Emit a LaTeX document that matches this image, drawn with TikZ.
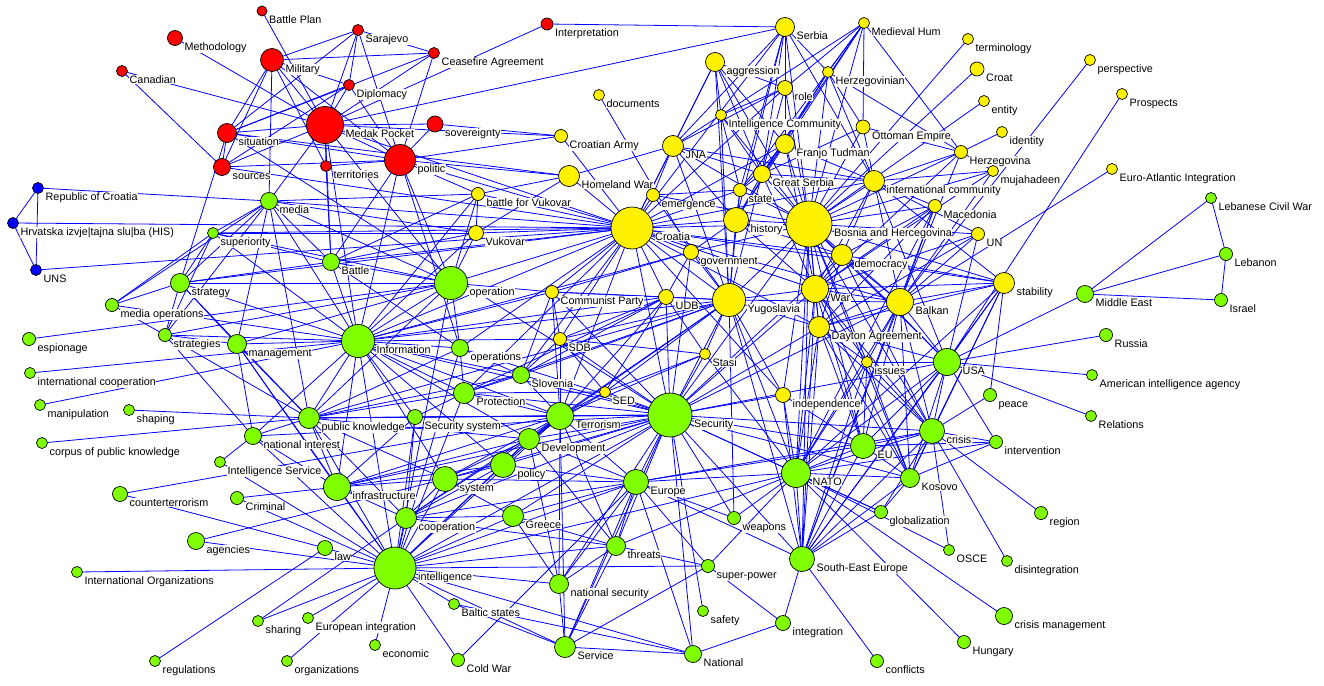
\documentclass[tikz,border=0pt]{standalone}
\usepackage{fontspec}
\setmainfont{Liberation Sans}
\usepackage{tikz}
\definecolor{ngreen}{RGB}{128,255,0}
\pgfdeclarelayer{bg}
\pgfdeclarelayer{lab}
\pgfsetlayers{bg,lab,main}
\tikzset{
  vx/.style={circle,draw=black,line width=0.7pt,inner sep=0pt,outer sep=0pt},
  vred/.style={vx,fill=red},
  vblue/.style={vx,fill=blue},
  vyel/.style={vx,fill=yellow},
  vgrn/.style={vx,fill=ngreen},
  lbl/.style={anchor=base west,fill=white,inner sep=0.5pt,font=\fontsize{10.8}{12}\selectfont},
  edge/.style={blue,line width=0.8pt}
}
\begin{document}
\begin{tikzpicture}[x=1pt,y=-1pt]
\useasboundingbox (0,0) rectangle (1324,685);

% vertices
\foreach \n/\x/\y/\d in {bplan/262/11/10, method/175/38/15, canad/122/71/11, milit/272/60/23,
  saraj/358/30/11, ceasef/434/53/11, diplo/349/85/11, medak/325/125/37, situat/227/133/19,
  sover/435/124/16, politic/400/160/31, territ/326/166/11, sources/222/167/17, interp/547/24/12}
  \node[vred,minimum size=\d pt] (\n) at (\x,\y) {};

\foreach \n/\x/\y/\d in {roc/38/188/11, his/13/223/11, uns/36/270/11}
  \node[vblue,minimum size=\d pt] (\n) at (\x,\y) {};

\foreach \n/\x/\y/\d in {serbia/785/27/19, medhum/864/23/11, aggr/715/62/19, herzian/828/72/11,
  role/785/88/15, docs/599/95/11, intcom/721/115/11, ottoman/863/127/14, croarmy/561/136/13,
  jna/673/146/21, tudman/785/144/19, homewar/569/176/21, grserb/762/174/17, state/740/190/13,
  bvuk/478/194/13, emerg/653/195/13, croatia/632/228/42, history/736/220/25, bih/809/224/46,
  intcomm/874/181/21, herzeg/961/152/13, mujah/993/171/11, maced/935/206/13, un/978/234/13,
  democ/842/255/21, stabil/1004/283/21, balkan/900/302/27, war/815/289/27, yugo/729/300/33,
  dayton/819/327/21, govt/691/252/15, vukovar/476/233/15, compart/552/292/13, udb/666/297/15,
  sdb/560/339/13, stasi/705/354/11, sed/605/392/11, indep/783/395/15, issues/867/362/11,
  termin/968/39/11, croat/977/69/14, entity/984/101/11, identity/1002/132/11,
  persp/1090/60/11, prosp/1122/94/11, euroatl/1112/169/11}
  \node[vyel,minimum size=\d pt] (\n) at (\x,\y) {};

\foreach \n/\x/\y/\d in {lebcw/1211/198/11, lebanon/1226/254/13, israel/1221/300/13,
  mideast/1085/294/17, russia/1106/335/13, amintel/1092/375/11, relat/1091/416/11,
  usa/947/362/27, peace/990/395/13, crisis/932/431/25, interv/996/442/13, eu/863/446/25,
  nato/796/473/29, kosovo/910/478/19, weapons/734/518/13, global/881/512/13, region/1041/513/13,
  osce/949/550/11, disint/1007/561/11, crisman/1004/616/17, hungary/964/642/13,
  conflicts/877/661/13, see/802/559/25, integr/783/623/15, superp/708/566/13, safety/703/611/11,
  national/693/654/17, europe/636/482/25, threats/616/546/19, greece/513/516/21,
  natsec/559/584/19, service/565/647/21, baltic/454/604/11, coldwar/458/660/13,
  policy/503/465/25, system/445/479/25, security/670/415/44, terror/560/416/27,
  devel/529/439/21, slovenia/521/375/17, protect/464/393/21, operations/460/348/17,
  operation/451/283/33, battle/331/262/17, media/269/201/17, superior/213/233/11,
  info/358/341/33, strategy/180/283/19, mediaops/112/305/13, espion/29/339/13,
  strategies/165/335/13, manage/237/344/19, intcoop/30/373/11, manip/40/405/11,
  shaping/129/410/11, pubknow/309/418/21, secsys/415/417/15, natint/253/436/17,
  corpus/42/443/11, intserv/220/462/11, counterr/120/494/15, criminal/237/498/13,
  infra/337/487/27, coop/406/518/21, agencies/196/541/17, law/325/548/15, intel/395/568/42,
  intorg/77/572/11, sharing/258/621/11, euint/308/618/11, economic/375/645/11,
  regul/155/661/11, orgs/287/661/11}
  \node[vgrn,minimum size=\d pt] (\n) at (\x,\y) {};

% labels
\begin{pgfonlayer}{lab}
\foreach \n/\t in {bplan/Battle Plan, method/Methodology, canad/Canadian, milit/Military,
  saraj/Sarajevo, ceasef/Ceasefire Agreement, diplo/Diplomacy, medak/Medak Pocket,
  situat/situation, sover/sovereignty, politic/politic, territ/territories, sources/sources,
  interp/Interpretation, roc/Republic of Croatia, his/Hrvatska izvje|tajna slu|ba (HIS), uns/UNS,
  serbia/Serbia, medhum/Medieval Hum, aggr/aggression, herzian/Herzegovinian, role/role,
  docs/documents, intcom/Intelligence Community, ottoman/Ottoman Empire, croarmy/Croatian Army,
  jna/JNA, tudman/Franjo Tudman, homewar/Homeland War, grserb/Great Serbia, state/state,
  bvuk/battle for Vukovar, emerg/emergence, croatia/Croatia, history/history,
  bih/Bosnia and Hercegovina, intcomm/international community, herzeg/Herzegovina,
  mujah/mujahadeen, maced/Macedonia, un/UN, democ/democracy, stabil/stability, balkan/Balkan,
  war/War, yugo/Yugoslavia, dayton/Dayton Agreement, govt/government, vukovar/Vukovar,
  compart/Communist Party, udb/UDB, sdb/SDB, stasi/Stasi, sed/SED, indep/independence,
  issues/issues, termin/terminology, croat/Croat, entity/entity, identity/identity,
  persp/perspective, prosp/Prospects, euroatl/Euro-Atlantic Integration,
  lebcw/Lebanese Civil War, lebanon/Lebanon, israel/Israel, mideast/Middle East, russia/Russia,
  amintel/American intelligence agency, relat/Relations, usa/USA, peace/peace, crisis/crisis,
  interv/intervention, eu/EU, nato/NATO, kosovo/Kosovo, weapons/weapons, global/globalization,
  region/region, osce/OSCE, disint/disintegration, crisman/crisis management, hungary/Hungary,
  conflicts/conflicts, see/South-East Europe, integr/integration, superp/super-power,
  safety/safety, national/National, europe/Europe, threats/threats, greece/Greece,
  natsec/national security, service/Service, baltic/Baltic states, coldwar/Cold War,
  policy/policy, system/system, security/Security, terror/Terrorism, devel/Development,
  slovenia/Slovenia, protect/Protection, operations/operations, operation/operation,
  battle/Battle, media/media, superior/superiority, info/Information, strategy/strategy,
  mediaops/media operations, espion/espionage, strategies/strategies, manage/management,
  intcoop/international cooperation, manip/manipulation, shaping/shaping,
  pubknow/public knowledge, secsys/Security system, natint/national interest,
  corpus/corpus of public knowledge, intserv/Intelligence Service, counterr/counterterrorism,
  criminal/Criminal, infra/infrastructure, coop/cooperation, agencies/agencies, law/law,
  intel/intelligence, intorg/International Organizations, sharing/sharing,
  euint/European integration, economic/economic, regul/regulations, orgs/organizations}
  \node[lbl] (\n-l) at ([shift={(1.5,12.5)}]\n.east) {\t};
\end{pgfonlayer}

% edges
\begin{pgfonlayer}{bg}
\foreach \a/\b in {bplan/medak, method/medak, canad/medak, canad/sources,
  milit/saraj, milit/ceasef, milit/diplo, milit/medak, milit/situat, milit/sources, milit/politic,
  milit/territ, milit/media, saraj/ceasef, saraj/situat, saraj/diplo, saraj/medak, saraj/politic,
  ceasef/situat, ceasef/medak, ceasef/politic, diplo/situat, diplo/medak, diplo/politic,
  diplo/sources, medak/situat, medak/sources, medak/politic, medak/territ, medak/sover,
  medak/croarmy, medak/interp, medak/serbia, medak/info, medak/battle, medak/operation,
  medak/media, medak/croatia, situat/politic, situat/sources, situat/homewar, situat/security,
  situat/strategy, sources/politic, sources/croatia, territ/politic, territ/battle,
  sover/politic, sover/croarmy, politic/croarmy, politic/info, politic/operation, politic/battle,
  politic/croatia, politic/homewar, politic/bvuk, politic/operations, interp/serbia,
  roc/his, roc/uns, his/uns, roc/media, his/croatia, uns/croatia}
  \draw[edge] (\a) -- (\b);
\foreach \a/\b in {serbia/role, serbia/tudman, serbia/grserb, serbia/bih, serbia/croatia,
  serbia/state, serbia/history, serbia/intcomm, serbia/herzian, serbia/jna,
  medhum/herzian, medhum/ottoman, medhum/herzeg, medhum/grserb, medhum/role, medhum/intcom,
  medhum/state, medhum/bih, medhum/tudman, aggr/jna, aggr/yugo, aggr/role, aggr/tudman,
  aggr/grserb, aggr/bih, aggr/intcom, aggr/croatia, herzian/grserb, herzian/bih,
  herzian/intcomm, herzian/history, herzian/herzeg, herzian/ottoman, role/intcom, role/bih,
  role/croatia, role/jna, role/grserb, docs/govt, intcom/jna, intcom/yugo, intcom/grserb,
  intcom/bih, intcom/state, ottoman/herzeg, ottoman/bih, ottoman/intcomm, ottoman/grserb,
  croarmy/croatia, jna/croatia, jna/emerg, jna/yugo, jna/homewar, jna/grserb, jna/bih,
  jna/history, jna/intcomm, tudman/grserb, tudman/bih, tudman/croatia, tudman/state,
  tudman/history, tudman/intcomm, tudman/war, homewar/croatia, homewar/bvuk, homewar/vukovar,
  grserb/bih, grserb/state, grserb/history, grserb/yugo, grserb/intcomm, grserb/war,
  state/bih, state/history, state/croatia, state/yugo, bvuk/vukovar, bvuk/croatia, bvuk/info,
  bvuk/operation, bvuk/battle, bvuk/media, emerg/croatia, emerg/bih, emerg/yugo, emerg/state,
  croatia/yugo, croatia/bih, croatia/history, croatia/govt, croatia/vukovar, croatia/operation,
  croatia/info, croatia/battle, croatia/media, croatia/superior, croatia/strategy,
  croatia/compart, croatia/udb, croatia/sdb, croatia/slovenia, croatia/security, croatia/terror,
  croatia/indep, croatia/war, croatia/dayton, croatia/balkan, croatia/democ, croatia/protect,
  croatia/operations, croatia/intcomm, croatia/stabil, history/bih, history/yugo, history/war,
  history/govt, history/democ, bih/intcomm, bih/herzeg, bih/mujah, bih/maced, bih/un,
  bih/democ, bih/stabil, bih/balkan, bih/war, bih/dayton, bih/yugo, bih/govt, bih/indep,
  bih/nato, bih/eu, bih/usa, bih/crisis, bih/kosovo, bih/see, bih/security, bih/issues,
  bih/termin, bih/croat, bih/entity, intcomm/herzeg, intcomm/mujah, intcomm/maced,
  intcomm/balkan, intcomm/democ, intcomm/war, intcomm/un, intcomm/stabil, intcomm/usa,
  herzeg/identity, herzeg/mujah, herzeg/war, herzeg/balkan, mujah/balkan, mujah/war,
  maced/balkan, maced/democ, maced/war, maced/dayton, maced/nato, maced/see,
  un/balkan, un/war, un/usa, un/dayton, democ/war, democ/balkan, democ/stabil, democ/dayton,
  democ/usa, democ/crisis, democ/security, stabil/balkan, stabil/usa, stabil/peace,
  stabil/crisis, stabil/war, stabil/dayton, stabil/nato, stabil/see, stabil/kosovo,
  balkan/war, balkan/dayton, balkan/usa, balkan/nato, balkan/see, balkan/eu, balkan/kosovo,
  balkan/crisis, balkan/issues, balkan/persp, balkan/euroatl, balkan/security, balkan/yugo,
  war/yugo, war/dayton, war/nato, war/see, war/eu, war/crisis, war/issues, war/security,
  war/kosovo, yugo/udb, yugo/stasi, yugo/sed, yugo/sdb, yugo/compart, yugo/slovenia,
  yugo/terror, yugo/govt, yugo/nato, yugo/see, yugo/security, yugo/info, yugo/pubknow,
  yugo/indep, yugo/weapons, yugo/dayton, yugo/protect, yugo/devel, dayton/nato, dayton/see,
  dayton/usa, dayton/issues, dayton/eu, dayton/kosovo, dayton/crisis, dayton/security,
  govt/udb, govt/compart, govt/info, govt/security, vukovar/operation, vukovar/battle,
  vukovar/info, vukovar/media, vukovar/superior, compart/udb, compart/sdb, compart/info,
  compart/slovenia, compart/operation, compart/terror, compart/security, udb/sdb, udb/stasi,
  udb/sed, udb/security, udb/info, udb/terror, udb/slovenia, udb/protect, sdb/stasi, sdb/sed,
  sdb/slovenia, sdb/info, sdb/security, sdb/terror, stasi/sed, stasi/security, stasi/terror,
  stasi/nato, sed/security, sed/terror, sed/devel, sed/protect, indep/security, indep/nato,
  indep/see, indep/eu, issues/nato, issues/see, issues/eu, issues/kosovo, issues/usa,
  issues/crisis, prosp/usa}
  \draw[edge] (\a) -- (\b);
\foreach \a/\b in {lebcw/mideast, lebcw/lebanon, lebanon/israel, lebanon/mideast,
  israel/mideast, mideast/usa, russia/usa, amintel/usa, relat/usa, usa/crisis, usa/kosovo,
  usa/nato, usa/eu, usa/interv, usa/see, usa/security, peace/crisis, crisis/interv,
  crisis/region, crisis/disint, crisis/osce, crisis/kosovo, crisis/eu, crisis/nato, crisis/see,
  crisis/security, crisis/europe, crisis/global, interv/kosovo, interv/eu, interv/nato,
  eu/kosovo, eu/nato, eu/see, eu/europe, eu/security, nato/see, nato/kosovo, nato/security,
  nato/europe, nato/superp, nato/osce, nato/crisman, nato/hungary, nato/threats, nato/intel,
  nato/global, nato/weapons, kosovo/see, kosovo/global, kosovo/security, see/integr,
  see/conflicts, see/security, see/europe, see/global, integr/national, integr/superp,
  superp/threats, superp/intel, superp/service, superp/europe, safety/security,
  weapons/security, weapons/europe, national/europe, national/service, national/baltic,
  national/security, national/intel, europe/security, europe/threats, europe/natsec,
  europe/service, europe/intel, europe/system, europe/policy, europe/greece, europe/coop,
  europe/terror, europe/devel, europe/coldwar, threats/security, threats/natsec,
  threats/service, threats/intel, threats/greece, threats/coop, threats/terror, threats/devel,
  greece/coop, greece/intel, greece/natsec, greece/security, greece/system, natsec/service,
  natsec/intel, natsec/security, natsec/terror, natsec/devel, service/intel, service/baltic,
  service/security, service/terror, baltic/intel, coldwar/intel, policy/security, policy/intel,
  policy/terror, policy/devel, policy/system, policy/coop, policy/infra, policy/info,
  system/security, system/intel, system/terror, system/devel, system/infra, system/coop,
  system/info, system/pubknow, security/terror, security/devel, security/slovenia,
  security/protect, security/operations, security/info, security/pubknow, security/secsys,
  security/intel, security/infra, security/coop, security/global, security/natint,
  terror/devel, terror/slovenia, terror/protect, terror/info, terror/pubknow, terror/intel,
  terror/infra, terror/coop, terror/secsys, terror/counterr, devel/intel, devel/infra,
  devel/coop, devel/info, devel/pubknow, slovenia/protect, slovenia/operations, slovenia/info,
  slovenia/pubknow, protect/operations, protect/info, protect/pubknow, protect/intel,
  protect/secsys, operations/operation, operations/info, operations/battle,
  operations/pubknow, operations/intel, operation/info, operation/battle, operation/media,
  operation/superior, operation/strategy, operation/espion, operation/pubknow,
  operation/manage, operation/intel, operation/strategies, battle/info, battle/media,
  battle/superior, battle/strategy, media/info, media/superior, media/strategy, media/mediaops,
  media/manage, media/pubknow, media/strategies, superior/strategy, superior/mediaops,
  superior/info, superior/strategies, info/strategy, info/strategies, info/mediaops,
  info/manage, info/pubknow, info/natint, info/infra, info/intel, info/secsys, info/intcoop,
  info/manip, strategy/strategies, strategy/mediaops, strategy/manage, strategy/pubknow,
  mediaops/strategies, strategies/manage, strategies/pubknow, strategies/natint,
  manage/pubknow, manage/natint, manage/intel, manage/infra, pubknow/natint, pubknow/shaping,
  pubknow/corpus, pubknow/infra, pubknow/intel, pubknow/secsys, pubknow/coop, secsys/intel,
  secsys/infra, secsys/coop, natint/intel, natint/infra, natint/intserv, intserv/intel,
  counterr/law, criminal/intel, criminal/infra, infra/intel, infra/coop, coop/intel,
  agencies/intel, agencies/system, law/intel, law/regul, intorg/intel, sharing/intel,
  sharing/coop, euint/intel, economic/intel, orgs/intel}
  \draw[edge] (\a) -- (\b);
\end{pgfonlayer}
\end{tikzpicture}
\end{document}
